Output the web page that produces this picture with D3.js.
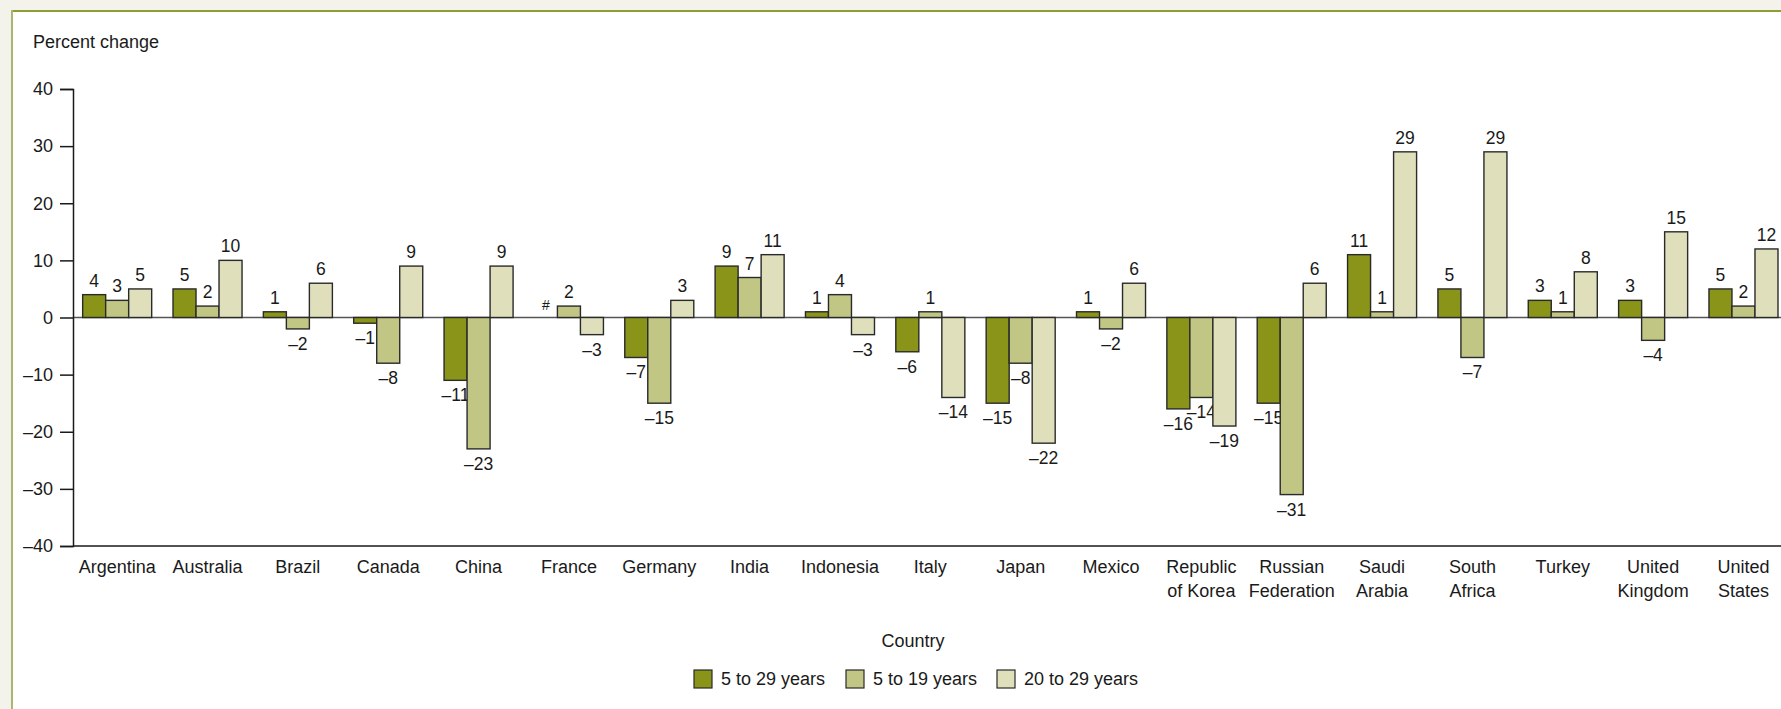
<!DOCTYPE html>
<html>
<head>
<meta charset="utf-8">
<script src="https://cdn.jsdelivr.net/npm/d3@7"></script>
<style>
  html, body { margin: 0; padding: 0; background: #f3f3eb; }
  svg { display: block; }
  text { font-family: "Liberation Sans", Arial, sans-serif; fill: #1a1a1a; }
</style>
</head>
<body>
<svg id="chart" width="1781" height="709"></svg>
<script>
const countries = ["Argentina", "Australia", "Brazil", "Canada", "China", "France", "Germany", "India", "Indonesia", "Italy", "Japan", "Mexico", "Republic\nof Korea", "Russian\nFederation", "Saudi\nArabia", "South\nAfrica", "Turkey", "United\nKingdom", "United\nStates"];
const seriesNames = ["5 to 29 years", "5 to 19 years", "20 to 29 years"];
const age5to29  = [4, 5, 1, -1, -11, 0, -7, 9, 1, -6, -15, 1, -16, -15, 11, 5, 3, 3, 5];
const age5to19  = [3, 2, -2, -8, -23, 2, -15, 7, 4, 1, -8, -2, -14, -31, 1, -7, 1, -4, 2];
const age20to29 = [5, 10, 6, 9, 9, -3, 3, 11, -3, -14, -22, 6, -19, 6, 29, 29, 8, 15, 12];
const labels5to29 = ["4", "5", "1", "-1", "-11", "#", "-7", "9", "1", "-6", "-15", "1", "-16", "-15", "11", "5", "3", "3", "5"];
const yTicks = [-40, -30, -20, -10, 0, 10, 20, 30, 40];
const colors = ["#8a9419", "#c1c685", "#dfe0bb"];

const svg = d3.select("#chart");

// panel frame
svg.append("rect").attr("x", 12).attr("y", 11).attr("width", 1781).attr("height", 720)
  .attr("fill", "#ffffff");
svg.append("line").attr("x1", 11).attr("x2", 1781).attr("y1", 11).attr("y2", 11)
  .attr("stroke", "#8e9e35").attr("stroke-width", 2);
svg.append("line").attr("x1", 12).attr("x2", 12).attr("y1", 10).attr("y2", 709)
  .attr("stroke", "#a9b86c").attr("stroke-width", 2);

const seriesData = [age5to29, age5to19, age20to29];
const fmt = v => (v < 0 ? "\u2013" + Math.abs(v) : String(v));
const seriesLabels = [labels5to29.map(s => s.replace("-", "\u2013")), age5to19.map(fmt), age20to29.map(fmt)];

const x0 = d3.scaleBand().domain(countries).range([72, 72 + 19 * 90.35])
  .paddingInner(0.236).paddingOuter(0.118);
const x1 = d3.scaleBand().domain(seriesNames).range([0, x0.bandwidth()]);
const y = d3.scaleLinear().domain([-40, 40]).range([546, 89]);

// y axis title
svg.append("text").attr("x", 33).attr("y", 48).attr("font-size", 18).text("Percent change");

// zero line
svg.append("line").attr("x1", 73).attr("x2", 1781).attr("y1", y(0)).attr("y2", y(0))
  .attr("stroke", "#555").attr("stroke-width", 1.5);

// bars
const groups = svg.append("g").selectAll("g").data(countries).join("g")
  .attr("transform", c => `translate(${x0(c)},0)`);
groups.each(function (c, i) {
  const g = d3.select(this);
  seriesNames.forEach((s, k) => {
    const v = seriesData[k][i];
    if (v !== 0) {
      g.append("rect")
        .attr("x", x1(s))
        .attr("width", x1.bandwidth())
        .attr("y", Math.min(y(v), y(0)))
        .attr("height", Math.abs(y(v) - y(0)))
        .attr("fill", colors[k])
        .attr("stroke", "#2a2a2a")
        .attr("stroke-width", 1.4);
    }
    const lab = seriesLabels[k][i];
    const cx = x1(s) + x1.bandwidth() / 2;
    const ty = v >= 0 ? y(v) - 8 : y(v) + 21;
    g.append("text")
      .attr("x", cx).attr("y", ty)
      .attr("text-anchor", "middle")
      .attr("font-size", lab === "#" ? 14 : 17.5)
      .text(lab);
  });
});

// y axis
const yAxis = d3.axisLeft(y).tickValues(yTicks).tickSize(13).tickPadding(7)
  .tickFormat(d => (d < 0 ? "\u2013" + Math.abs(d) : d));
const ya = svg.append("g").attr("transform", "translate(73,0)").call(yAxis);
ya.select(".domain").attr("stroke", "#1a1a1a").attr("stroke-width", 1.5);
ya.selectAll(".tick line").attr("stroke", "#1a1a1a").attr("stroke-width", 1.5);
ya.selectAll(".tick text").attr("font-size", 18).attr("font-family", "Liberation Sans, Arial, sans-serif")
  .attr("fill", "#1a1a1a");

// x axis line
svg.append("line").attr("x1", 73).attr("x2", 1781).attr("y1", y(-40)).attr("y2", y(-40))
  .attr("stroke", "#1a1a1a").attr("stroke-width", 1.5);

// category labels
countries.forEach(c => {
  const lines = c.split("\n");
  const t = svg.append("text").attr("text-anchor", "middle").attr("font-size", 18)
    .attr("x", x0(c) + x0.bandwidth() / 2).attr("y", 573);
  lines.forEach((ln, j) => {
    t.append("tspan").attr("x", x0(c) + x0.bandwidth() / 2).attr("dy", j === 0 ? 0 : 24).text(ln);
  });
});

// x axis title
svg.append("text").attr("x", 913).attr("y", 647).attr("text-anchor", "middle")
  .attr("font-size", 18).text("Country");

// legend
const legendX = [694, 846, 997];
seriesNames.forEach((s, k) => {
  svg.append("rect").attr("x", legendX[k]).attr("y", 670).attr("width", 18).attr("height", 18)
    .attr("fill", colors[k]).attr("stroke", "#2a2a2a").attr("stroke-width", 1.2);
  svg.append("text").attr("x", legendX[k] + 27).attr("y", 685).attr("font-size", 18).text(s);
});
</script>
</body>
</html>
